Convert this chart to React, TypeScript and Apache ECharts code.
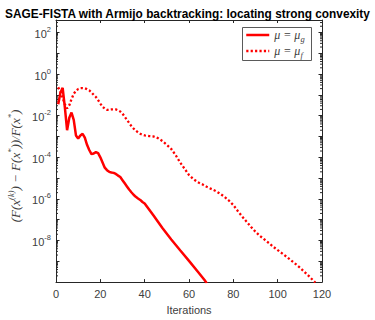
import React, { useEffect, useRef } from "react";
import * as echarts from "echarts";

// Iterations and log10 of relative error (F(x^k)-F(x*))/F(x*)
const iterG = [1, 2, 3, 4, 5, 6, 7, 8, 9, 10, 11, 12, 13, 14, 15, 16, 17, 18, 19, 20, 21, 22, 23, 24, 25, 26, 27, 28, 29, 30, 31, 32, 33, 34, 35, 36, 37, 38, 39, 40, 44, 48, 52, 56, 60, 64, 67, 68];
const log10ErrG = [-1.45, -0.9, -0.66, -1.6, -2.7, -2.1, -1.85, -2.2, -2.95, -3.1, -2.95, -2.87, -3.05, -3.4, -3.65, -3.85, -3.82, -3.75, -3.8, -4.0, -4.25, -4.5, -4.62, -4.7, -4.73, -4.75, -4.8, -4.88, -4.95, -5.1, -5.25, -5.4, -5.55, -5.68, -5.8, -5.9, -5.98, -6.05, -6.15, -6.22, -6.8, -7.4, -7.95, -8.47, -8.98, -9.5, -9.9, -10.05];

const iterF = [1, 2, 3, 4, 5, 6, 7, 8, 9, 10, 11, 12, 13, 14, 15, 16, 17, 18, 19, 20, 21, 22, 23, 24, 25, 26, 27, 28, 29, 30, 31, 32, 33, 34, 35, 36, 37, 38, 39, 40, 42, 44, 46, 48, 50, 52, 54, 56, 58, 60, 62, 64, 66, 68, 70, 72, 74, 76, 78, 80, 82, 84, 86, 88, 90, 92, 94, 96, 98, 100, 102, 104, 106, 108, 110, 112, 114, 116, 117];
const log10ErrF = [-0.63, -0.85, -1.15, -1.45, -1.65, -1.5, -1.2, -0.95, -0.8, -0.72, -0.68, -0.67, -0.68, -0.72, -0.78, -0.88, -1.0, -1.1, -1.25, -1.42, -1.57, -1.66, -1.72, -1.72, -1.7, -1.69, -1.7, -1.74, -1.8, -1.9, -2.05, -2.2, -2.35, -2.5, -2.62, -2.72, -2.8, -2.87, -2.92, -2.95, -2.98, -3.0, -3.08, -3.22, -3.4, -3.6, -3.9, -4.25, -4.55, -4.85, -5.05, -5.2, -5.3, -5.42, -5.52, -5.62, -5.75, -5.9, -6.08, -6.3, -6.58, -6.85, -7.1, -7.35, -7.58, -7.78, -7.95, -8.12, -8.3, -8.46, -8.62, -8.78, -8.95, -9.12, -9.3, -9.5, -9.7, -9.92, -10.02];

const seriesNames = ["mu_g", "mu_f"];
const xTicks = [0, 20, 40, 60, 80, 100, 120];
const yMinExp = -10;
const yMaxExp = 2.6;
const minorMultipliers = [2, 3, 4, 5, 6, 7, 8, 9];

const TITLE = "SAGE-FISTA with Armijo backtracking: locating strong convexity";
const AX = "#262626";
const LBL = "#404040";
const SANS = "'Liberation Sans', Arial, Helvetica, sans-serif";
const SERIF = "'Liberation Serif', 'DejaVu Serif', serif";
const DOT: number[] = [2.2, 2.2];

export default function App() {
  const ref = useRef<HTMLDivElement>(null);
  useEffect(() => {
    if (!ref.current) return;
    const chart = echarts.init(ref.current, null, { renderer: "svg" });

    const minorData: number[][] = [];
    for (let k = Math.floor(yMinExp); k <= Math.ceil(yMaxExp); k++) {
      for (const m of minorMultipliers) {
        const v = k + Math.log10(m);
        if (v > yMinExp && v < yMaxExp) minorData.push([0, v]);
      }
    }

    const yLabelFmt = (v: number) => {
      if (Math.abs(v - Math.round(v)) > 1e-6) return "";
      const r = Math.round(v);
      if (r % 2 !== 0 || r <= yMinExp) return "";
      return `{b|10}{s|${r}}`;
    };

    const gridLeft = 56, gridRight = 53, gridTop = 20, gridBottom = 37;

    const xCommon = {
      type: "value",
      min: xTicks[0],
      max: xTicks[xTicks.length - 1],
      interval: 20,
      splitLine: { show: false },
      axisLine: { onZero: false, lineStyle: { color: AX, width: 1 } },
      axisTick: { inside: true, length: 3, lineStyle: { color: AX } },
    };
    const yCommon = {
      type: "value",
      min: yMinExp,
      max: yMaxExp,
      interval: 1,
      splitLine: { show: false },
      axisLine: { onZero: false, lineStyle: { color: AX, width: 1 } },
      axisTick: { inside: true, length: 3.5, lineStyle: { color: AX } },
    };

    chart.setOption({
      animation: false,
      backgroundColor: "#fff",
      title: {
        text: TITLE,
        left: "center",
        top: 3,
        textStyle: { fontFamily: SANS, fontSize: 11.85, fontWeight: "bold", color: "#000" },
      },
      grid: { left: gridLeft, right: gridRight, top: gridTop, bottom: gridBottom },
      legend: {
        orient: "vertical",
        left: 242,
        top: 27,
        padding: [1, 3, 1, 3],
        itemGap: 1,
        itemWidth: 23,
        itemHeight: 14,
        backgroundColor: "transparent",
        borderWidth: 0,
        z: 10,
        itemStyle: { opacity: 0 },
        data: [
          { name: "mu_g", lineStyle: { type: "solid", width: 2.5 } },
          { name: "mu_f", lineStyle: { type: DOT, width: 2.3 } },
        ],
        formatter: (name: string) =>
          name === seriesNames[0] ? "{i|μ = μ}{sub|g}" : "{i|μ = μ}{sub|f}",
        textStyle: {
          color: LBL,
          fontFamily: SERIF,
          fontSize: 12,
          rich: {
            i: { fontFamily: SERIF, fontStyle: "italic", fontSize: 12, color: LBL, lineHeight: 16 },
            sub: { fontFamily: SERIF, fontStyle: "italic", fontSize: 8.5, color: LBL, verticalAlign: "bottom", lineHeight: 12, padding: [6, 0, 0, 0] },
          },
        },
      },
      graphic: [
        {
          type: "rect",
          z: 9,
          shape: { x: 242.5, y: 27.5, width: 69, height: 33 },
          style: { fill: "#fff", stroke: "#5a5a5a", lineWidth: 1 },
        },
        {
          type: "text",
          x: 14,
          y: 166,
          rotation: Math.PI / 2,
          style: {
            text: "{m|(F(x}{s|(k)}{m|) − F(x}{s|*}{m|))/F(x}{s|*}{m|)}",
            align: "center",
            verticalAlign: "middle",
            fill: LBL,
            rich: {
              m: { fontFamily: SERIF, fontStyle: "italic", fontSize: 13, fill: LBL, color: LBL, lineHeight: 16, verticalAlign: "bottom" },
              s: { fontFamily: SERIF, fontStyle: "italic", fontSize: 8.5, fill: LBL, color: LBL, lineHeight: 16, verticalAlign: "top" },
            },
          },
        },
      ],
      xAxis: [
        {
          ...xCommon,
          position: "bottom",
          axisLabel: { color: LBL, fontFamily: SANS, fontSize: 11, margin: 6 },
          name: "Iterations",
          nameLocation: "middle",
          nameGap: 19,
          nameTextStyle: { color: LBL, fontFamily: SANS, fontSize: 11 },
        },
        {
          ...xCommon,
          position: "top",
          axisLabel: { show: false },
        },
      ],
      yAxis: [
        {
          ...yCommon,
          position: "left",
          axisLabel: {
            margin: 5,
            formatter: yLabelFmt,
            showMaxLabel: false,
            showMinLabel: false,
            rich: {
              b: { fontFamily: SANS, fontSize: 11, color: LBL, lineHeight: 14, verticalAlign: "bottom" },
              s: { fontFamily: SANS, fontSize: 7.5, color: LBL, lineHeight: 14, verticalAlign: "top", padding: [0, 0, 6, 0] },
            },
          },
        },
        {
          ...yCommon,
          position: "right",
          axisLabel: { show: false },
        },
      ],
      series: [
        {
          name: "minorTicks",
          type: "custom",
          xAxisIndex: 0,
          yAxisIndex: 0,
          silent: true,
          data: minorData,
          encode: { x: 0, y: 1 },
          renderItem: (params: any, api: any) => {
            const v = api.value(1);
            const pl = api.coord([xTicks[0], v]);
            const pr = api.coord([xTicks[xTicks.length - 1], v]);
            return {
              type: "group",
              children: [
                { type: "line", shape: { x1: pl[0], y1: pl[1], x2: pl[0] + 2, y2: pl[1] }, style: { stroke: AX, lineWidth: 1 } },
                { type: "line", shape: { x1: pr[0], y1: pr[1], x2: pr[0] - 2, y2: pr[1] }, style: { stroke: AX, lineWidth: 1 } },
              ],
            };
          },
        },
        {
          name: "mu_g",
          type: "line",
          data: iterG.map((x, i) => [x, log10ErrG[i]]),
          symbol: "none",
          clip: true,
          lineStyle: { color: "#ff0000", width: 2.5, type: "solid" },
          itemStyle: { color: "#ff0000" },
        },
        {
          name: "mu_f",
          type: "line",
          data: iterF.map((x, i) => [x, log10ErrF[i]]),
          symbol: "none",
          clip: true,
          lineStyle: { color: "#ff0000", width: 2.3, type: DOT },
          itemStyle: { color: "#ff0000" },
        },
      ],
    });
    return () => chart.dispose();
  }, []);
  return <div ref={ref} style={{ width: 375, height: 320, position: "fixed", left: 0, top: 0 }} />;
}
